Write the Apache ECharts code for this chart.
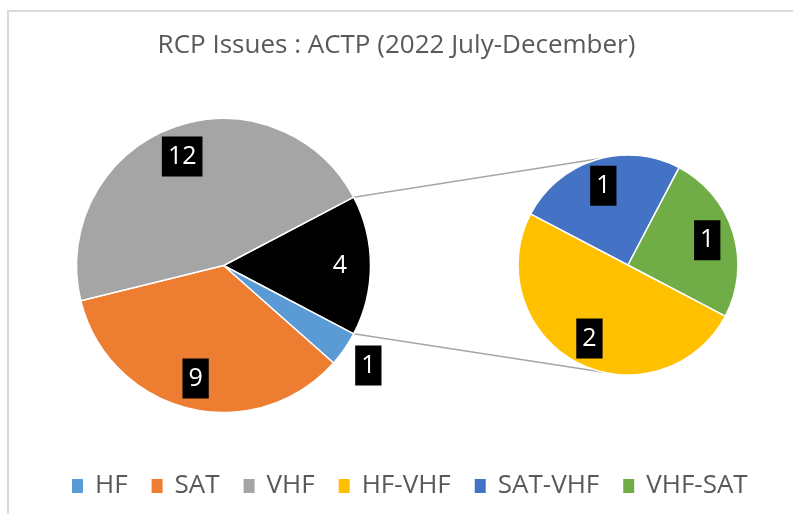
<!DOCTYPE html>
<html>
<head>
<meta charset="utf-8">
<script src="https://cdn.jsdelivr.net/npm/echarts@6/dist/echarts.min.js"></script>
<style>
  html, body { margin: 0; padding: 0; background: #fff; overflow: hidden; }
  #chart { width: 793px; height: 514px; }
</style>
</head>
<body>
<div id="chart"></div>
<script>
// main pie data
var mainNames = ['HF', 'SAT', 'VHF'];
var mainValues = [1, 9, 12];
// second pie (breakdown of the black slice)
var subNames = ['HF-VHF', 'SAT-VHF', 'VHF-SAT'];
var subValues = [2, 1, 1];

var colors = {
	'HF': '#5b9bd5', 'SAT': '#ed7d31', 'VHF': '#a5a5a5',
	'HF-VHF': '#ffc000', 'SAT-VHF': '#4472c4', 'VHF-SAT': '#70ad47', 'Other': '#000000'
};

var font = 'Open Sans';
var mainC = [223.5, 265.5], mainR = 147;
var subC = [628, 265], subR = 110;

var otherValue = subValues.reduce(function(a, b) { return a + b; }, 0);
var total = mainValues.reduce(function(a, b) { return a + b; }, 0) + otherValue;
// black slice centred on 3 o'clock
var halfOther = 360 * otherValue / total / 2;

var mainData = [{ name: 'Other', value: otherValue }];
for (var i = 0; i < mainNames.length; i++) {
	mainData.push({ name: mainNames[i], value: mainValues[i] });
}
var subData = [];
for (var j = 0; j < subNames.length; j++) {
	subData.push({ name: subNames[j], value: subValues[j] });
}

function colored(data) {
	return data.map(function(d) {
		return { name: d.name, value: d.value, itemStyle: { color: colors[d.name] } };
	});
}

var labelBox = {
	show: true,
	position: 'inside',
	formatter: '{c}',
	color: '#fff',
	backgroundColor: '#000',
	fontFamily: font,
	fontSize: 25,
	lineHeight: 32,
	padding: [4, 6]
};

// invisible copies of the pies, only used to place the labels at the right radius
function overlay(data, center, radius, start, showFn) {
	return {
		type: 'pie',
		silent: true,
		center: center,
		radius: radius,
		startAngle: start,
		clockwise: true,
		z: 5,
		labelLine: { show: false },
		emphasis: { disabled: true },
		data: data.map(function(d) {
			return {
				name: 'lbl-' + d.name,
				value: d.value,
				itemStyle: { color: 'rgba(0,0,0,0)', borderWidth: 0 },
				label: showFn(d.name) ? labelBox : { show: false }
			};
		})
	};
}

function pt(c, r, deg) {
	var a = deg * Math.PI / 180;
	return [c[0] + r * Math.cos(a), c[1] - r * Math.sin(a)];
}

var up1 = pt(mainC, mainR, halfOther), lo1 = pt(mainC, mainR, -halfOther);
var up2 = pt(subC, subR, 104.5), lo2 = pt(subC, subR, -103.5);

var chart = echarts.init(document.getElementById('chart'));
var option = {
	backgroundColor: '#fff',
	animation: false,
	title: {
		text: 'RCP Issues : ACTP (2022 July-December)',
		left: 'center',
		top: 28,
		padding: [5, 5, 5, 21],
		textStyle: { fontFamily: font, fontSize: 26, fontWeight: 'normal', color: '#595959' }
	},
	legend: {
		data: mainNames.concat(subNames),
		left: 70,
		top: 473,
		padding: 0,
		itemWidth: 13,
		itemHeight: 16,
		itemGap: 22,
		icon: 'rect',
		textStyle: { fontFamily: font, fontSize: 26, color: '#595959', padding: [0, 0, 0, 6] }
	},
	graphic: [
		{ type: 'rect', shape: { x: 8, y: 11, width: 810, height: 540 }, style: { fill: 'none', stroke: '#d9d9d9', lineWidth: 2 }, silent: true },
		{ type: 'line', shape: { x1: up1[0], y1: up1[1], x2: up2[0], y2: up2[1] }, style: { stroke: '#a6a6a6', lineWidth: 1.5 }, silent: true },
		{ type: 'line', shape: { x1: lo1[0], y1: lo1[1], x2: lo2[0], y2: lo2[1] }, style: { stroke: '#a6a6a6', lineWidth: 1.5 }, silent: true }
	],
	series: [
		{
			type: 'pie',
			center: mainC,
			radius: [0, mainR],
			startAngle: halfOther,
			clockwise: true,
			label: { show: false },
			labelLine: { show: false },
			itemStyle: { borderColor: '#fff', borderWidth: 1.5 },
			data: colored(mainData)
		},
		{
			type: 'pie',
			center: subC,
			radius: [0, subR],
			startAngle: -halfOther,
			clockwise: true,
			label: { show: false },
			labelLine: { show: false },
			itemStyle: { borderColor: '#fff', borderWidth: 1.5 },
			data: colored(subData)
		},
		overlay(mainData, mainC, [80, mainR], halfOther, function(n) { return n !== 'HF'; }),
		overlay(mainData, mainC, [160, 186], halfOther, function(n) { return n === 'HF'; }),
		overlay(subData, subC, [50, subR], -halfOther, function(n) { return true; })
	]
};
chart.setOption(option);
</script>
</body>
</html>
